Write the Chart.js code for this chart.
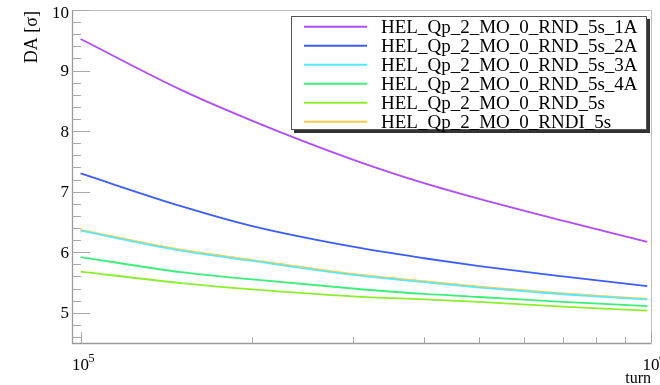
<!DOCTYPE html>
<html>
<head>
<meta charset="utf-8">
<script src="https://cdn.jsdelivr.net/npm/chart.js@4.4.0/dist/chart.umd.min.js"></script>
<style>
  html, body { margin: 0; padding: 0; background: #fff; }
</style>
</head>
<body>
<canvas id="chart" width="660" height="385"></canvas>
<script>
const turns = [1e5, 1.5e5, 2e5, 3e5, 4e5, 5e5, 7e5, 9.85e5];

const da1A  = [9.52, 8.68, 8.17, 7.53, 7.14, 6.88, 6.52, 6.17];
const da2A  = [7.30, 6.76, 6.43, 6.09, 5.90, 5.77, 5.60, 5.44];
const da3A  = [6.355, 6.025, 5.855, 5.625, 5.505, 5.415, 5.305, 5.215];
const da4A  = [5.92, 5.67, 5.55, 5.40, 5.31, 5.26, 5.18, 5.11];
const da5s  = [5.68, 5.49, 5.385, 5.27, 5.22, 5.18, 5.10, 5.035];
const daI5s = [6.37, 6.04, 5.87, 5.64, 5.52, 5.43, 5.32, 5.23];

const seriesNames = [
  'HEL_Qp_2_MO_0_RND_5s_1A',
  'HEL_Qp_2_MO_0_RND_5s_2A',
  'HEL_Qp_2_MO_0_RND_5s_3A',
  'HEL_Qp_2_MO_0_RND_5s_4A',
  'HEL_Qp_2_MO_0_RND_5s',
  'HEL_Qp_2_MO_0_RNDI_5s'
];
const seriesColors = ['#b04cff', '#3d5cff', '#5ae8ff', '#3cee7a', '#8cee2c', '#ffcc4a'];

const yTickLabels = [5, 6, 7, 8, 9, 10];
const xTickValues = [1e5, 2e5, 3e5, 4e5, 5e5, 6e5, 7e5, 8e5, 9e5, 1e6];
const xTickLabels = [['10', '5', 1e5], ['10', '6', 1e6]];

const serif = '"Liberation Serif", "DejaVu Serif", serif';

const allSeries = [da1A, da2A, da3A, da4A, da5s, daI5s];

function makeDatasets(){
  return allSeries.map((vals, i) => ({
    label: seriesNames[i],
    data: turns.map((t, j) => ({x: t, y: vals[j]})),
    borderColor: seriesColors[i],
    backgroundColor: seriesColors[i],
    borderWidth: 1.8,
    pointRadius: 0,
    cubicInterpolationMode: 'monotone',
    fill: false
  }));
}

// ROOT style frame, inner ticks, labels and legend
const rootFrame = {
  id: 'rootFrame',
  afterDraw(chart){
    const ctx = chart.ctx;
    const a = chart.chartArea;
    const xs = chart.scales.x;
    const ys = chart.scales.y;
    ctx.save();

    // frame
    ctx.strokeStyle = '#bdbdbd';
    ctx.lineWidth = 1;
    ctx.beginPath();
    ctx.moveTo(a.left, a.top + 0.5);
    ctx.lineTo(a.right + 0.5, a.top + 0.5);
    ctx.lineTo(a.right + 0.5, a.bottom);
    ctx.stroke();

    ctx.strokeStyle = '#9a9a9a';
    ctx.lineWidth = 1.3;
    ctx.beginPath();
    ctx.moveTo(a.left + 0.5, a.top);
    ctx.lineTo(a.left + 0.5, a.bottom + 0.5);
    ctx.lineTo(a.right + 0.5, a.bottom + 0.5);
    ctx.stroke();

    // y ticks
    ctx.lineWidth = 1;
    ctx.strokeStyle = '#a8a8a8';
    for (let v = 46; v <= 100; v += 2){
      const py = Math.round(ys.getPixelForValue(v / 10)) + 0.5;
      const len = (v % 10 === 0) ? 18 : 9;
      ctx.beginPath();
      ctx.moveTo(a.left, py);
      ctx.lineTo(a.left + len, py);
      ctx.stroke();
    }

    // x ticks
    xTickValues.forEach(t => {
      const px = Math.round(xs.getPixelForValue(t)) + 0.5;
      const len = (t === 1e5 || t === 1e6) ? 11 : 6;
      ctx.beginPath();
      ctx.moveTo(px, a.bottom);
      ctx.lineTo(px, a.bottom - len);
      ctx.stroke();
    });

    // y labels
    ctx.fillStyle = '#000';
    ctx.font = '17px ' + serif;
    ctx.textAlign = 'right';
    ctx.textBaseline = 'middle';
    yTickLabels.forEach(v => {
      let py = ys.getPixelForValue(v);
      if (py < 13) py = 13;
      ctx.fillText(String(v), a.left - 3, py + 1);
    });

    // x labels (10^n)
    xTickLabels.forEach(l => {
      const px = xs.getPixelForValue(l[2]);
      ctx.font = '17px ' + serif;
      ctx.textAlign = 'center';
      ctx.textBaseline = 'alphabetic';
      ctx.fillText(l[0], px, a.bottom + 27);
      ctx.font = '12px ' + serif;
      ctx.textAlign = 'left';
      ctx.fillText(l[1], px + 8, a.bottom + 19);
    });

    // axis titles
    ctx.font = '16px ' + serif;
    ctx.textAlign = 'right';
    ctx.textBaseline = 'alphabetic';
    ctx.fillText('turn', a.right, a.bottom + 40);

    ctx.save();
    ctx.font = '18px ' + serif;
    ctx.translate(37, a.top + 1);
    ctx.rotate(-Math.PI / 2);
    ctx.textAlign = 'right';
    ctx.fillText('DA [σ]', 0, 0);
    ctx.restore();

    // legend box with shadow
    const lx = 291, ly = 16, lw = 356, lh = 114;
    ctx.fillStyle = '#333';
    ctx.fillRect(lx + 3, ly + 3, lw, lh);
    ctx.fillStyle = '#fff';
    ctx.fillRect(lx, ly, lw, lh);
    ctx.strokeStyle = '#555';
    ctx.lineWidth = 1;
    ctx.strokeRect(lx + 0.5, ly + 0.5, lw - 1, lh - 1);

    ctx.font = '19px ' + serif;
    ctx.textAlign = 'left';
    ctx.textBaseline = 'middle';
    chart.data.datasets.forEach((ds, i) => {
      const ry = 26.7 + i * 19;
      ctx.strokeStyle = ds.borderColor;
      ctx.lineWidth = 2;
      ctx.beginPath();
      ctx.moveTo(304, ry);
      ctx.lineTo(367, ry);
      ctx.stroke();
      ctx.fillStyle = '#000';
      ctx.fillText(ds.label, 381, ry + 1);
    });

    ctx.restore();
  }
};

function initChart(){
  const ctx = document.getElementById('chart').getContext('2d');
  new Chart(ctx, {
    type: 'line',
    data: { datasets: makeDatasets() },
    options: {
      responsive: false,
      animation: false,
      layout: { padding: { left: 72, right: 9, top: 10, bottom: 42 } },
      plugins: {
        legend: { display: false },
        tooltip: { enabled: false }
      },
      scales: {
        x: { type: 'logarithmic', min: 96600, max: 1e6, display: false },
        y: { type: 'linear', min: 4.5, max: 10, display: false }
      }
    },
    plugins: [rootFrame]
  });
}

initChart();
</script>
</body>
</html>
